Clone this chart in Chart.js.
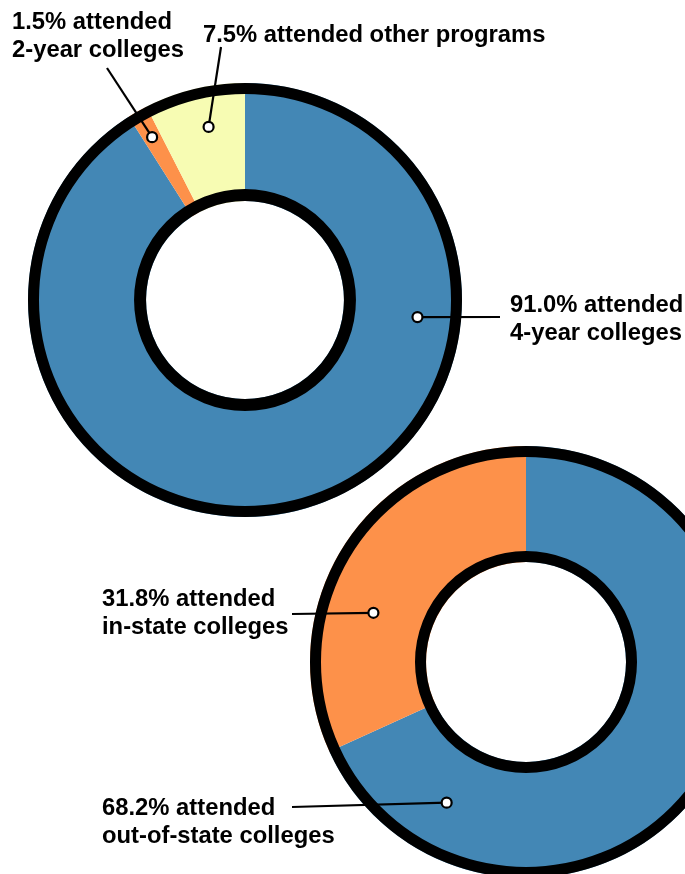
<!DOCTYPE html>
<html lang="en">
<head>
<meta charset="UTF-8" />
<title>College attendance</title>
<script src="https://cdn.jsdelivr.net/npm/chart.js"></script>
<style>
  html, body { margin: 0; padding: 0; background: #fff; overflow: hidden; }
  #page { position: relative; width: 685px; height: 874px; overflow: hidden; }
  #page canvas { position: absolute; left: 0; top: 0; }
  .lbl {
    position: absolute;
    font: bold 23.8px "Liberation Sans", Arial, sans-serif;
    line-height: 28px;
    color: #000;
    white-space: nowrap;
  }
</style>
</head>
<body>
<div id="page">
  <canvas id="top" width="760" height="900"></canvas>
  <canvas id="bottom" width="760" height="900"></canvas>
</div>

<script>
  // Top donut: where graduates went
  const topCategories = ['4-year colleges', '2-year colleges', 'other programs'];
  const topValues = [91.0, 1.5, 7.5];
  const topColors = ['#4387b5', '#fd914a', '#f7fcb3'];

  // Bottom donut: of the 4-year college group
  const bottomCategories = ['out-of-state colleges', 'in-state colleges'];
  const bottomValues = [68.2, 31.8];
  const bottomColors = ['#4387b5', '#fd914a'];

  // Callouts: which slice, where the marker sits inside it, where the text goes
  const topCallouts = [
    { index: 1, along: 0.5, depth: 0.75, from: [107, 68], text: [12, 7], oneLine: false },
    { index: 2, along: 0.56, depth: 0.66, from: [221, 47], text: [203, 20], oneLine: true },
    { index: 0, along: 0.292, depth: 0.63, from: [500, 317], text: [510, 290], oneLine: false }
  ];
  const bottomCallouts = [
    { index: 1, along: 0.37, depth: 0.52, from: [292, 614], text: [102, 584], oneLine: false },
    { index: 0, along: 0.853, depth: 0.53, from: [292, 807], text: [102, 793], oneLine: false }
  ];

  // Black rims + leader lines, drawn from the arc geometry
  function rimPlugin(outerW, innerW, callouts) {
    return {
      id: 'rim',
      afterDatasetsDraw(chart) {
        const arcs = chart.getDatasetMeta(0).data;
        const { x, y, innerRadius, outerRadius } = arcs[0];
        const ctx = chart.ctx;
        ctx.save();
        ctx.strokeStyle = '#000';
        ctx.lineWidth = outerW;
        ctx.beginPath();
        ctx.arc(x, y, outerRadius - outerW / 2, 0, Math.PI * 2);
        ctx.stroke();
        ctx.lineWidth = innerW;
        ctx.beginPath();
        ctx.arc(x, y, innerRadius + innerW / 2, 0, Math.PI * 2);
        ctx.stroke();

        callouts.forEach(c => {
          const el = arcs[c.index];
          const a = el.startAngle + c.along * (el.endAngle - el.startAngle);
          const r = innerRadius + c.depth * (outerRadius - innerRadius);
          const px = x + r * Math.cos(a);
          const py = y + r * Math.sin(a);
          ctx.lineWidth = 2.2;
          ctx.beginPath();
          ctx.moveTo(c.from[0], c.from[1]);
          ctx.lineTo(px, py);
          ctx.stroke();
          ctx.beginPath();
          ctx.arc(px, py, 5, 0, Math.PI * 2);
          ctx.fillStyle = '#fff';
          ctx.fill();
          ctx.stroke();
        });
        ctx.restore();
      }
    };
  }

  function donut(id, values, colors, padding, cutout, plugin) {
    return new Chart(document.getElementById(id), {
      type: 'doughnut',
      data: {
        datasets: [{
          data: values,
          backgroundColor: colors,
          borderWidth: 0,
          hoverOffset: 0
        }]
      },
      options: {
        responsive: false,
        animation: false,
        events: [],
        cutout: cutout,
        layout: { padding: padding },
        plugins: { legend: { display: false }, tooltip: { enabled: false } }
      },
      plugins: [plugin]
    });
  }

  donut('top', topValues, topColors,
    { left: 28, top: 83, right: 298, bottom: 383 }, '45.6%',
    rimPlugin(11, 12, topCallouts));

  donut('bottom', bottomValues, bottomColors,
    { left: 310, top: 446, right: 18, bottom: 22 }, '46.3%',
    rimPlugin(11, 11, bottomCallouts));

  // Text labels
  function addLabels(callouts, values, cats) {
    const page = document.getElementById('page');
    callouts.forEach(c => {
      const d = document.createElement('div');
      d.className = 'lbl';
      d.style.left = c.text[0] + 'px';
      d.style.top = c.text[1] + 'px';
      const head = values[c.index].toFixed(1) + '% attended';
      d.innerHTML = c.oneLine ? head + ' ' + cats[c.index] : head + '<br>' + cats[c.index];
      page.appendChild(d);
    });
  }
  addLabels(topCallouts, topValues, topCategories);
  addLabels(bottomCallouts, bottomValues, bottomCategories);
</script>
</body>
</html>
